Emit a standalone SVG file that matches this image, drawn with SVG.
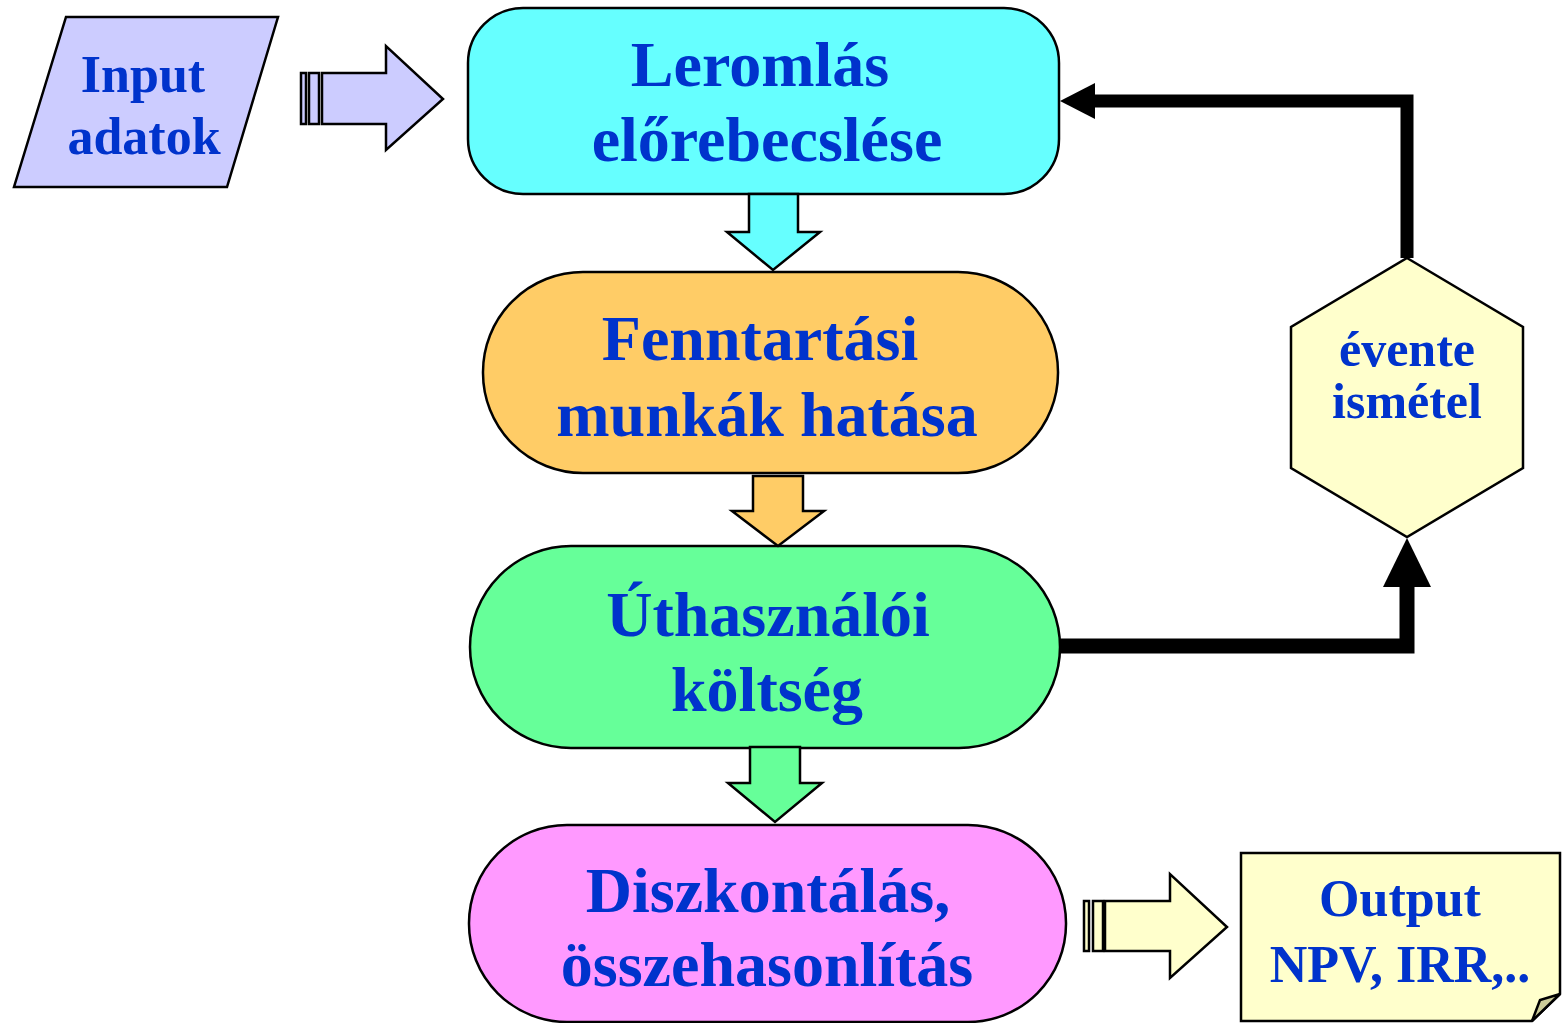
<svg xmlns="http://www.w3.org/2000/svg" width="1562" height="1023" viewBox="0 0 1562 1023">
<style>
.t{font-family:"Liberation Serif","Times New Roman",serif;font-weight:bold;fill:#0033CC;text-anchor:middle}
.big{font-size:64px}
.sm{font-size:52px}
.sh{stroke:#000;stroke-width:2.5;stroke-linejoin:miter}
.conn{fill:none;stroke:#000;stroke-linejoin:miter}
</style>
<rect width="1562" height="1023" fill="#fff"/>
<g id="input">
<polygon class="sh" points="66,17 278,17 227,187 14,187" fill="#CCCCFF"/>
<text class="t sm" x="143" y="92">Input</text>
<text class="t sm" x="144" y="154">adatok</text>
</g>
<g id="arrow-in">
<rect class="sh" x="301" y="73" width="5" height="51" fill="#CCCCFF"/>
<rect class="sh" x="309" y="73" width="10" height="51" fill="#CCCCFF"/>
<polygon class="sh" points="322,73 386,73 386,46 443,99 386,150 386,124 322,124" fill="#CCCCFF"/>
</g>
<g id="n1">
<rect class="sh" x="468" y="8" width="591" height="186" rx="55" ry="55" fill="#66FFFF"/>
<text class="t big" x="760" y="86">Leromlás</text>
<text class="t big" x="767" y="161">előrebecslése</text>
</g>
<g id="n2">
<rect class="sh" x="483" y="272" width="575" height="201" rx="100" ry="100" fill="#FFCC66"/>
<text class="t big" x="760" y="360">Fenntartási</text>
<text class="t big" x="767" y="436">munkák hatása</text>
</g>
<g id="n3">
<rect class="sh" x="470" y="546" width="590" height="202" rx="101" ry="101" fill="#66FF99"/>
<text class="t big" x="768" y="636">Úthasználói</text>
<text class="t big" x="767" y="711">költség</text>
</g>
<g id="n4">
<rect class="sh" x="469" y="825" width="597" height="197" rx="98" ry="98" fill="#FF99FF"/>
<text class="t big" x="768" y="912">Diszkontálás,</text>
<text class="t big" x="767" y="986">összehasonlítás</text>
</g>
<g id="arrow-out">
<rect class="sh" x="1084" y="901" width="5" height="50" fill="#FFFFCC"/>
<rect class="sh" x="1093" y="901" width="10" height="50" fill="#FFFFCC"/>
<polygon class="sh" points="1105,901 1170,901 1170,874 1227,927 1170,978 1170,951 1105,951" fill="#FFFFCC"/>
</g>
<g id="output">
<path class="sh" d="M1241,853 H1560 V994 L1532,1021 H1241 Z" fill="#FFFFCC"/>
<path class="sh" d="M1532,1021 L1540,1000 L1560,994 Z" fill="#CCCC99" stroke-width="2"/>
<text class="t sm" x="1400" y="916">Output</text>
<text class="t sm" x="1400" y="982">NPV, IRR,..</text>
</g>
<g id="repeat">
<polygon class="sh" points="1407,258 1523,327 1523,468 1407,537 1291,468 1291,327" fill="#FFFFCC"/>
<text class="t" font-size="50" x="1407" y="366">évente</text>
<text class="t" font-size="50" x="1407" y="418">ismétel</text>
</g>
<g id="connectors">
<polygon class="sh" points="749,194 798,194 798,232 820,232 773,270 727,232 749,232" fill="#66FFFF"/>
<polygon class="sh" points="753,476 803,476 803,511 824,511 778,546 732,511 753,511" fill="#FFCC66"/>
<polygon class="sh" points="750,747 800,747 800,783 822,783 775,822 728,783 750,783" fill="#66FF99"/>
<path class="conn" stroke-width="15" d="M1060,646 H1407 V586"/>
<polygon points="1383,587 1431,587 1407,538" fill="#000"/>
<path class="conn" stroke-width="13" d="M1407,258 V101 H1094"/>
<polygon points="1095,83 1095,119 1060,101" fill="#000"/>
</g>
</svg>
